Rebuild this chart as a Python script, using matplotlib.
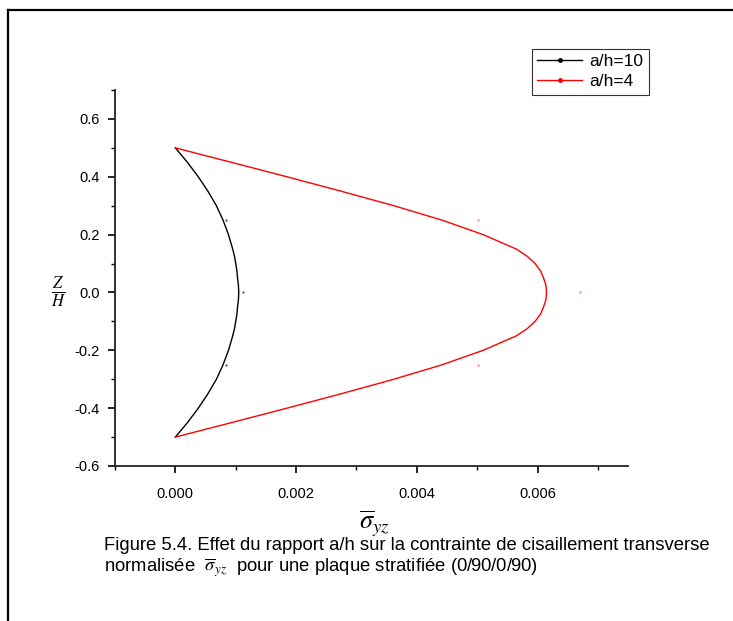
import matplotlib
matplotlib.use("Agg")
import matplotlib.pyplot as plt
from matplotlib.lines import Line2D
from matplotlib.ticker import MultipleLocator, FormatStrFormatter

plt.rcParams["font.family"] = ["Liberation Sans", "DejaVu Sans"]
plt.rcParams["mathtext.fontset"] = "stix"

# z/h through the thickness
z = [-0.5, -0.45, -0.4, -0.35, -0.3, -0.25, -0.2, -0.15, -0.125, -0.1,
     -0.075, -0.05, -0.025, 0.0, 0.025, 0.05, 0.075, 0.1, 0.125, 0.15,
     0.2, 0.25, 0.3, 0.35, 0.4, 0.45, 0.5]

# normalised transverse shear stress (x1e-3)
s_ah10 = [0.0, 0.2, 0.38, 0.54, 0.68, 0.79, 0.88, 0.95, 0.98, 1.0,
          1.02, 1.03, 1.045, 1.05, 1.045, 1.03, 1.02, 1.0, 0.98, 0.95,
          0.88, 0.79, 0.68, 0.54, 0.38, 0.2, 0.0]
s_ah4 = [0.0, 0.93, 1.85, 2.75, 3.62, 4.42, 5.1, 5.65, 5.83, 5.96,
         6.05, 6.1, 6.14, 6.15, 6.14, 6.1, 6.05, 5.96, 5.83, 5.65,
         5.1, 4.42, 3.62, 2.75, 1.85, 0.93, 0.0]

# isolated reference points
ref_z = [0.25, 0.0, -0.25]
ref_ah10 = [0.84, 1.12, 0.84]
ref_ah4 = [5.02, 6.71, 5.02]

fig = plt.figure(figsize=(7.33, 6.21), dpi=100)
ax = fig.add_axes([0.1569, 0.2496, 0.6999, 0.6054])

ax.plot([v * 1e-3 for v in s_ah10], z, color="black", lw=1.0)
ax.plot([v * 1e-3 for v in s_ah4], z, color="red", lw=1.0)
ax.scatter([v * 1e-3 for v in ref_ah10], ref_z, s=0.4, color="#555555")
ax.scatter([v * 1e-3 for v in ref_ah4], ref_z, s=0.4, color="#ff8080")

ax.set_xlim(-0.001, 0.0075)
ax.set_ylim(-0.6, 0.7)
ax.xaxis.set_major_locator(MultipleLocator(0.002))
ax.xaxis.set_minor_locator(MultipleLocator(0.001))
ax.yaxis.set_major_locator(MultipleLocator(0.2))
ax.yaxis.set_minor_locator(MultipleLocator(0.1))
ax.xaxis.set_major_formatter(FormatStrFormatter("%.3f"))
ax.yaxis.set_major_formatter(FormatStrFormatter("%.1f"))
ax.set_xticks([0.0, 0.002, 0.004, 0.006])
ax.set_yticks([-0.6, -0.4, -0.2, 0.0, 0.2, 0.4, 0.6])

for side in ("top", "right"):
    ax.spines[side].set_visible(False)
for side in ("left", "bottom"):
    ax.spines[side].set_linewidth(1.3)
    ax.spines[side].set_color("#222222")
ax.tick_params(which="major", direction="out", length=5, width=1.2,
               labelsize=10.5, pad=6)
ax.tick_params(axis="x", which="major", pad=10)
ax.tick_params(which="minor", direction="out", length=3, width=1.0)

ax.text(-0.11, 0.462, r"$\frac{Z}{H}$", transform=ax.transAxes,
        fontsize=17, ha="center", va="center")
ax.text(0.505, -0.152, r"$\overline{\sigma}_{yz}$", transform=ax.transAxes,
        fontsize=19, ha="center", va="center")

handles = [
    Line2D([], [], color="black", lw=1.0, marker="o", markersize=2.5),
    Line2D([], [], color="red", lw=1.0, marker="o", markersize=2.5),
]
leg = ax.legend(handles, ["a/h=10", "a/h=4"], loc="upper left",
                bbox_to_anchor=(0.8131, 1.11), fontsize=12.5, frameon=True,
                fancybox=False, edgecolor="black", handlelength=2.6,
                borderpad=0.3, labelspacing=0.3, handletextpad=0.4,
                borderaxespad=0)
leg.get_frame().set_linewidth(0.8)

fig.text(104 / 733, 1 - 546 / 621,
         "Figure 5.4. Effet du rapport a/h sur la contrainte de cisaillement transverse",
         fontsize=13.3, ha="left", va="center")
fig.text(104 / 733, 1 - 568 / 621,
         r"normalisée  $\overline{\sigma}_{yz}$  pour une plaque stratifiée (0/90/0/90)",
         fontsize=13.3, ha="left", va="center")

# page frame (only top and left edges visible)
x0, y0 = 8 / 733, 1 - 10 / 621
fig.add_artist(Line2D([x0, 1.0], [y0, y0], transform=fig.transFigure,
                      color="black", lw=1.6))
fig.add_artist(Line2D([x0, x0], [y0, 0.0], transform=fig.transFigure,
                      color="black", lw=1.6))

fig.savefig("out.png", dpi=100)
